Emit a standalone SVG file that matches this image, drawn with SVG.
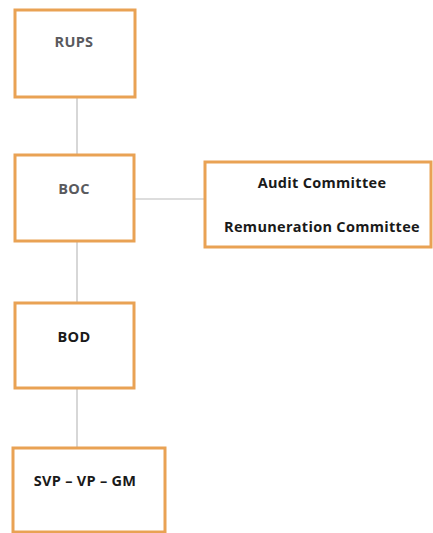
<svg xmlns="http://www.w3.org/2000/svg" width="433" height="533" viewBox="0 0 433 533">
<style>
.box{fill:#fff;stroke:#e9a254;stroke-width:3}
.t{font-family:"Open Sans","Liberation Sans",sans-serif;font-weight:bold;font-size:14.5px;text-anchor:middle;letter-spacing:0.3px}
.g{fill:#5a5a5e}
.k{fill:#1a1a1a}
.c{stroke:#bcbcbc;stroke-width:1.2;fill:none}
</style>
<rect width="433" height="533" fill="#fff"/>
<g id="connectors">
<line class="c" x1="77" y1="97" x2="77" y2="155"/>
<line class="c" x1="77" y1="241" x2="77" y2="303"/>
<line class="c" x1="77" y1="388" x2="77" y2="448"/>
<line class="c" x1="134" y1="199" x2="205" y2="199"/>
</g>
<g id="rups">
<rect class="box" x="15" y="10" width="120" height="87"/>
<text class="t g" x="74" y="47">RUPS</text>
</g>
<g id="boc">
<rect class="box" x="15" y="155" width="119" height="86"/>
<text class="t g" x="74" y="194">BOC</text>
</g>
<g id="committees">
<rect class="box" x="205" y="162" width="226" height="85"/>
<text class="t k" x="322" y="188">Audit Committee</text>
<text class="t k" x="322" y="232">Remuneration Committee</text>
</g>
<g id="bod">
<rect class="box" x="15" y="303" width="119" height="85"/>
<text class="t k" x="74" y="342">BOD</text>
</g>
<g id="svp">
<rect class="box" x="13" y="448" width="152" height="84"/>
<text class="t k" x="85" y="486">SVP – VP – GM</text>
</g>
</svg>
